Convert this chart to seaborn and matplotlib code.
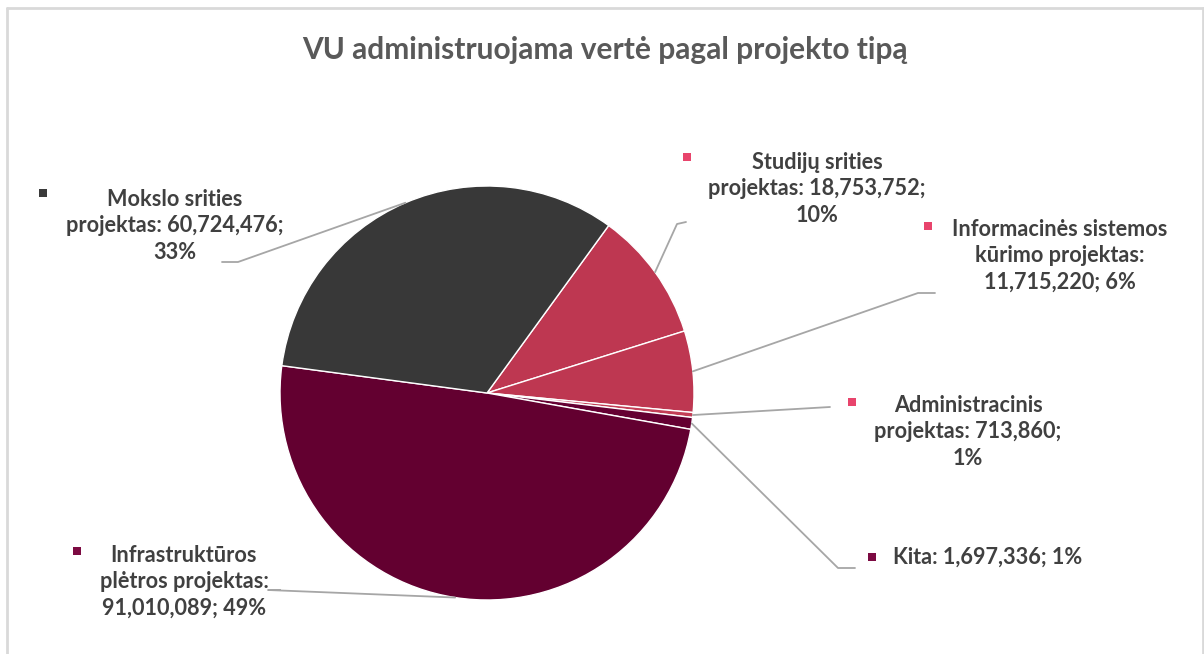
import numpy as np
import matplotlib
matplotlib.use("Agg")
import matplotlib.pyplot as plt
import seaborn as sns
from matplotlib.patches import Rectangle
from matplotlib.lines import Line2D

# data (clockwise order starting after Mokslo)
categories = [
    "Studijų srities projektas",
    "Informacinės sistemos kūrimo projektas",
    "Administracinis projektas",
    "Kita",
    "Infrastruktūros plėtros projektas",
    "Mokslo srities projektas",
]
values = [18753752, 11715220, 713860, 1697336, 91010089, 60724476]
label_texts = [
    "Studijų srities\nprojektas: 18,753,752;\n10%",
    "Informacinės sistemos\nkūrimo projektas:\n11,715,220; 6%",
    "Administracinis\nprojektas: 713,860;\n1%",
    "Kita: 1,697,336; 1%",
    "Infrastruktūros\nplėtros projektas:\n91,010,089; 49%",
    "Mokslo srities\nprojektas: 60,724,476;\n33%",
]
slice_colors = ["#be3751", "#be3751", "#c33e56", "#650032", "#630030", "#383838"]
key_colors = ["#e8446c", "#e8446c", "#e8446c", "#7c0a42", "#7c0a42", "#3a3a3a"]

# label layout in pixels from top-left: text center, marker pos, elbow, stub end
label_pos = [(817, 189), (1060, 256), (968, 432), (988, 557), (184, 582), (175, 226)]
key_pos = [(687, 157), (928, 226), (852, 402), (872, 557), (77, 551), (43, 193)]
elbow_pos = [(677, 224), (918, 293), (830, 407), (838, 568), (268, 590), (238, 262)]
stub_end = [(686, 222), (935, 293), (830, 407), (855, 568), (280, 590), (222, 262)]

sns.set_theme(style="white")
plt.rcParams["font.family"] = ["Lato", "DejaVu Sans"]

W, H = 1204, 654
fig = plt.figure(figsize=(W / 100, H / 100), dpi=100)
fig.patch.set_facecolor("white")

# outer frame
fig.add_artist(Line2D([7 / W, 7 / W], [0, 1 - 8 / H], transform=fig.transFigure,
                      color="#d9d9d9", lw=2))
fig.add_artist(Line2D([7 / W, 1203 / W], [1 - 8 / H, 1 - 8 / H], transform=fig.transFigure,
                      color="#d9d9d9", lw=2))
fig.add_artist(Line2D([1203 / W, 1203 / W], [0, 1 - 8 / H], transform=fig.transFigure,
                      color="#d9d9d9", lw=2))

cx, cy, r = 487, 393, 207
ax = fig.add_axes([(cx - r) / W, (H - cy - r) / H, 2 * r / W, 2 * r / H])
wedges, _ = ax.pie(values, colors=slice_colors, startangle=54, counterclock=False,
                   radius=1.0, wedgeprops=dict(edgecolor="white", linewidth=1.0))
ax.set_xlim(-1, 1)
ax.set_ylim(-1, 1)
ax.set_aspect("equal")
ax.axis("off")

fig.text(605 / W, 1 - 50 / H, "VU administruojama vertė pagal projekto tipą",
         ha="center", va="center", fontsize=21.5, fontweight="bold", color="#595959")

def px(x, y):
    return (x / W, 1 - y / H)

for w, txt, lp, kp, ep, se, kc in zip(wedges, label_texts, label_pos, key_pos,
                                      elbow_pos, stub_end, key_colors):
    mid = np.deg2rad((w.theta1 + w.theta2) / 2)
    edge = (cx + r * np.cos(mid), cy - r * np.sin(mid))
    fig.add_artist(Line2D([edge[0] / W, ep[0] / W, se[0] / W],
                          [1 - edge[1] / H, 1 - ep[1] / H, 1 - se[1] / H],
                          transform=fig.transFigure, color="#a6a6a6", lw=1.3))
    x, y = px(*lp)
    fig.text(x, y, txt, ha="center", va="center", fontsize=15.6, fontweight="bold",
             color="#404040", linespacing=1.3)
    fig.add_artist(Rectangle(((kp[0] - 4) / W, 1 - (kp[1] + 4) / H), 8 / W, 8 / H,
                             transform=fig.transFigure, color=kc, lw=0))

fig.savefig("out.png", dpi=100, facecolor="white")
